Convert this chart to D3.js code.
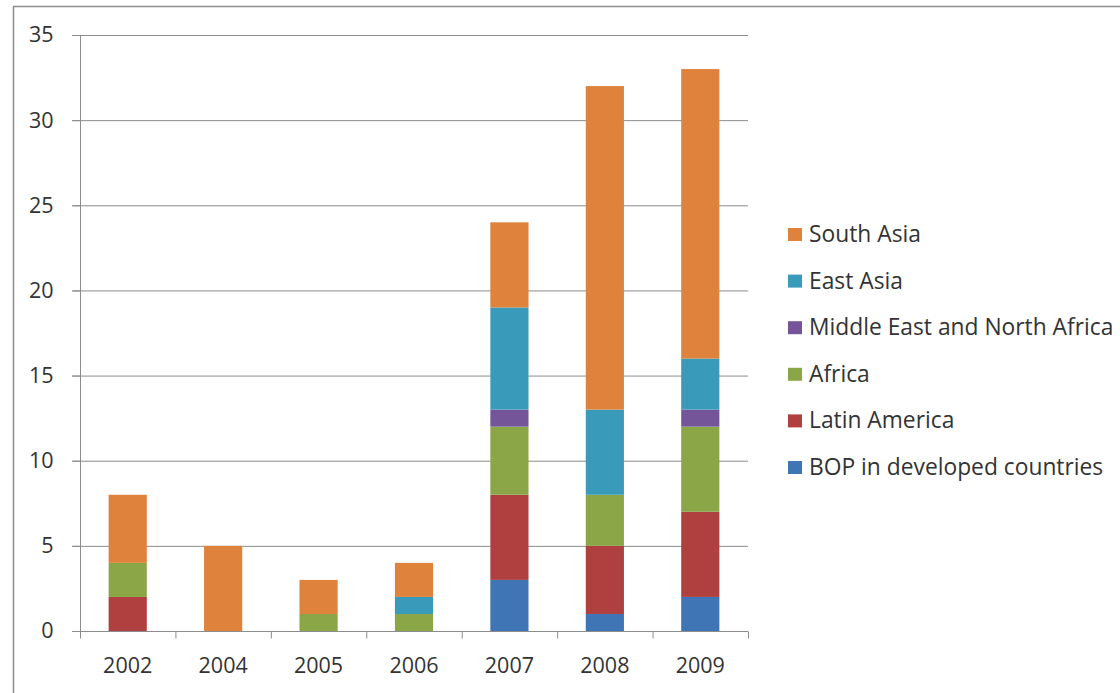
<!DOCTYPE html>
<html>
<head>
<meta charset="utf-8">
<script src="https://cdn.jsdelivr.net/npm/d3@7"></script>
<style>
  html, body { margin: 0; padding: 0; background: #fff; }
  svg { display: block; }
</style>
</head>
<body>
<svg id="chart" width="1120" height="693"></svg>
<script>
const years = ["2002", "2004", "2005", "2006", "2007", "2008", "2009"];
const seriesNames = ["BOP in developed countries", "Latin America", "Africa", "Middle East and North Africa", "East Asia", "South Asia"];
const bop        = [0, 0, 0, 0, 3, 1, 2];
const latAm      = [2, 0, 0, 0, 5, 4, 5];
const africa     = [2, 0, 1, 1, 4, 3, 5];
const mena       = [0, 0, 0, 0, 1, 0, 1];
const eastAsia   = [0, 0, 0, 1, 6, 5, 3];
const southAsia  = [4, 5, 2, 2, 5, 19, 17];
const yTicks = [0, 5, 10, 15, 20, 25, 30, 35];
const colors = ["#3F74B5", "#B0403F", "#8BA646", "#74559A", "#3A9AB9", "#DF823B"];

(function () {
const seriesValues = [bop, latAm, africa, mena, eastAsia, southAsia];
const rows = years.map((yr, i) => {
  const r = { year: yr };
  seriesNames.forEach((s, k) => r[s] = seriesValues[k][i]);
  return r;
});

const svg = d3.select("#chart");
const font = "'Open Sans', 'Noto Sans', sans-serif";
const textColor = "#333333";

// outer border
svg.append("rect").attr("x", 13.5).attr("y", 6.5).attr("width", 1120).attr("height", 700)
  .attr("fill", "none").attr("stroke", "#8c8c8c").attr("stroke-width", 1.5);

const pLeft = 80, pRight = 748, pTop = 35, pBottom = 631;
const x = d3.scaleBand().domain(years).range([pLeft, pRight]).paddingInner(0.6).paddingOuter(0.3);
const y = d3.scaleLinear().domain([0, 35]).range([pBottom, pTop]);

// gridlines
svg.append("g").selectAll("line").data(yTicks).join("line")
  .attr("x1", pLeft - 8).attr("x2", pRight)
  .attr("y1", d => y(d) + 0.5).attr("y2", d => y(d) + 0.5)
  .attr("stroke", "#8c8c8c").attr("stroke-width", 1);

// bars
const stack = d3.stack().keys(seriesNames)(rows);
svg.append("g").selectAll("g").data(stack).join("g")
  .attr("fill", (d, i) => colors[i])
  .selectAll("rect").data(d => d).join("rect")
  .attr("x", d => x(d.data.year))
  .attr("width", x.bandwidth())
  .attr("y", d => y(d[1]))
  .attr("height", d => y(d[0]) - y(d[1]));

// y axis
const yAxis = svg.append("g").attr("transform", `translate(${pLeft + 0.5},0)`)
  .call(d3.axisLeft(y).tickValues(yTicks).tickSize(8).tickPadding(19));
yAxis.select(".domain").attr("stroke", "#8c8c8c").attr("d", `M0,${pTop}V${pBottom}`);
yAxis.selectAll(".tick line").attr("stroke", "#8c8c8c");
yAxis.selectAll("text").attr("font-family", font).attr("font-size", 21.5).attr("fill", textColor);

// x axis
const xAxis = svg.append("g").attr("transform", `translate(0,${pBottom + 0.5})`);
xAxis.append("line").attr("x1", pLeft).attr("x2", pRight).attr("stroke", "#8c8c8c");
const bounds = d3.range(years.length + 1).map(i => pLeft + i * (pRight - pLeft) / years.length);
xAxis.selectAll("line.tk").data(bounds).join("line").attr("class", "tk")
  .attr("x1", d => d + 0.5).attr("x2", d => d + 0.5).attr("y1", 0).attr("y2", 7)
  .attr("stroke", "#8c8c8c");
xAxis.selectAll("text").data(years).join("text")
  .attr("x", d => x(d) + x.bandwidth() / 2)
  .attr("y", 41)
  .attr("text-anchor", "middle")
  .attr("font-family", font).attr("font-size", 21.5).attr("fill", textColor)
  .text(d => d);

// legend (reverse order)
const legendItems = seriesNames.map((s, i) => ({ name: s, color: colors[i] })).reverse();
const lg = svg.append("g").selectAll("g").data(legendItems).join("g")
  .attr("transform", (d, i) => `translate(788, ${234 + i * 46.6})`);
lg.append("rect").attr("x", 0).attr("y", -6).attr("width", 14).attr("height", 13).attr("fill", d => d.color);
lg.append("text").attr("x", 21).attr("y", 0).attr("dy", "0.35em")
  .attr("font-family", font).attr("font-size", 22.8).attr("fill", textColor)
  .text(d => d.name);
})();
</script>
</body>
</html>
